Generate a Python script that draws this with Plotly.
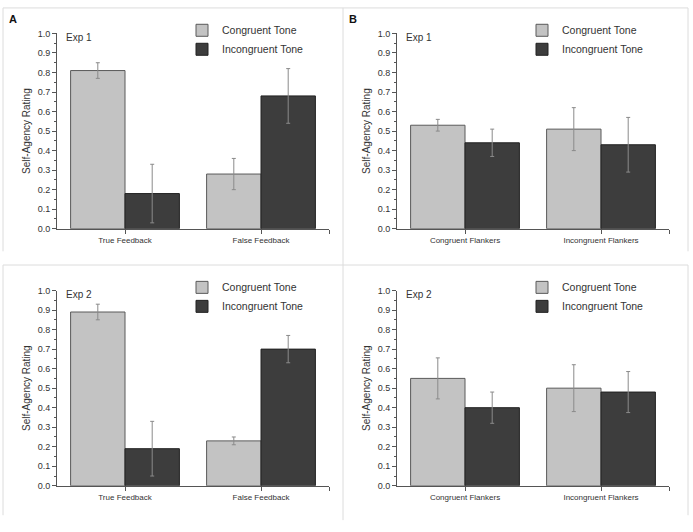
import plotly.graph_objects as go

W, H = 693, 532

# ---------------- data ----------------
feedback_cats = ["True Feedback", "False Feedback"]
flanker_cats = ["Congruent Flankers", "Incongruent Flankers"]
series_names = ["Congruent Tone", "Incongruent Tone"]

exp1_feedback_congruent = [0.81, 0.28]
exp1_feedback_congruent_err = [0.04, 0.08]
exp1_feedback_incongruent = [0.18, 0.68]
exp1_feedback_incongruent_err = [0.15, 0.14]

exp1_flanker_congruent = [0.53, 0.51]
exp1_flanker_congruent_err = [0.03, 0.11]
exp1_flanker_incongruent = [0.44, 0.43]
exp1_flanker_incongruent_err = [0.07, 0.14]

exp2_feedback_congruent = [0.89, 0.23]
exp2_feedback_congruent_err = [0.04, 0.02]
exp2_feedback_incongruent = [0.19, 0.70]
exp2_feedback_incongruent_err = [0.14, 0.07]

exp2_flanker_congruent = [0.55, 0.50]
exp2_flanker_congruent_err = [0.105, 0.12]
exp2_flanker_incongruent = [0.40, 0.48]
exp2_flanker_incongruent_err = [0.08, 0.105]

panel_titles = ["Exp 1", "Exp 1", "Exp 2", "Exp 2"]
panel_letters = ["A", "B"]
y_ticks = [0.0, 0.1, 0.2, 0.3, 0.4, 0.5, 0.6, 0.7, 0.8, 0.9, 1.0]

panels = [
    (feedback_cats, exp1_feedback_congruent, exp1_feedback_congruent_err,
     exp1_feedback_incongruent, exp1_feedback_incongruent_err),
    (flanker_cats, exp1_flanker_congruent, exp1_flanker_congruent_err,
     exp1_flanker_incongruent, exp1_flanker_incongruent_err),
    (feedback_cats, exp2_feedback_congruent, exp2_feedback_congruent_err,
     exp2_feedback_incongruent, exp2_feedback_incongruent_err),
    (flanker_cats, exp2_flanker_congruent, exp2_flanker_congruent_err,
     exp2_flanker_incongruent, exp2_flanker_incongruent_err),
]

# ---------------- style ----------------
FONT = "Liberation Sans, Arial, sans-serif"
LIGHT = "#c3c3c3"
DARK = "#3d3d3d"
AXIS = "#555555"
TXT = "#333333"

# plot areas in pixels (left, right, top, bottom)
areas = [
    (57, 329, 29, 228),
    (397, 669, 29, 228),
    (57, 329, 291, 490),
    (397, 669, 291, 490),
]

fig = go.Figure()

for i, (cats, c_vals, c_err, ic_vals, ic_err) in enumerate(panels):
    n = i + 1
    xa = "x" if n == 1 else f"x{n}"
    ya = "y" if n == 1 else f"y{n}"
    lg = "legend" if n == 1 else f"legend{n}"
    xpos = list(range(len(cats)))
    for name, vals, errs, col, lc in [
        (series_names[0], c_vals, c_err, LIGHT, "#5a5a5a"),
        (series_names[1], ic_vals, ic_err, DARK, "#222222"),
    ]:
        fig.add_trace(go.Bar(
            x=xpos, y=vals, name=name, xaxis=xa, yaxis=ya, legend=lg,
            offsetgroup=name,
            marker=dict(color=col, line=dict(color=lc, width=1)),
            error_y=dict(type="data", array=errs, visible=True,
                         color="#8a8a8a", thickness=1, width=2),
            showlegend=True,
        ))

layout = dict(
    width=W, height=H,
    margin=dict(l=0, r=0, t=0, b=0),
    paper_bgcolor="white", plot_bgcolor="white",
    barmode="group", bargap=0.2, bargroupgap=0,
    font=dict(family=FONT, color=TXT, size=10),
    showlegend=True,
)

for i, (l, r, t, b) in enumerate(areas):
    n = i + 1
    suffix = "" if n == 1 else str(n)
    cats = panels[i][0]
    layout[f"xaxis{suffix}"] = dict(
        domain=[l / W, r / W], anchor=f"y{suffix}",
        range=[-0.5, 1.5],
        tickvals=[0, 1, 1.5], ticktext=cats + [""],
        ticks="outside", ticklen=4, tickcolor=AXIS,
        showline=True, linecolor=AXIS, linewidth=1,
        showgrid=False, zeroline=False,
        tickfont=dict(size=8, color=TXT, family=FONT),
        fixedrange=True,
    )
    layout[f"yaxis{suffix}"] = dict(
        domain=[1 - b / H, 1 - t / H], anchor=f"x{suffix}",
        range=[0, 1], tickvals=y_ticks, ticktext=[f"{v:.1f}" for v in y_ticks],
        ticks="outside", ticklen=4, tickcolor=AXIS,
        minor=dict(ticks="outside", ticklen=2, dtick=0.05, tickcolor=AXIS, showgrid=False),
        showline=True, linecolor=AXIS, linewidth=1,
        showgrid=False, zeroline=False,
        tickfont=dict(size=9, color=TXT, family=FONT),
        title=dict(text="Self-Agency Rating", font=dict(size=10, color=TXT, family=FONT),
                   standoff=5),
        fixedrange=True,
    )
    lgname = "legend" if n == 1 else f"legend{n}"
    layout[lgname] = dict(
        x=(l + 125) / W, y=1 - (t - 18) / H, xanchor="left", yanchor="top",
        bgcolor="rgba(0,0,0,0)", borderwidth=0,
        font=dict(size=10.5, color=TXT, family=FONT),
        tracegroupgap=0, traceorder="normal",
    )

fig.update_layout(**layout)

# panel annotations
for i, (l, r, t, b) in enumerate(areas):
    n = i + 1
    suffix = "" if n == 1 else str(n)
    fig.add_annotation(
        text=panel_titles[i], xref=f"x{suffix} domain", yref=f"y{suffix} domain",
        x=0.025, y=0.98, xanchor="left", yanchor="middle", showarrow=False,
        font=dict(size=10, color=TXT, family=FONT),
    )

for j, letter in enumerate(panel_letters):
    fig.add_annotation(
        text=f"<b>{letter}</b>", xref="paper", yref="paper",
        x=(7 + 340 * j) / W, y=1 - 14 / H, xanchor="left", yanchor="middle",
        showarrow=False, font=dict(size=11, color="#111111", family=FONT),
    )

# light panel frame lines
BORDER = "#dcdcdc"
frame_lines = [
    (3, 3, 688, 3), (3, 3, 3, 251), (688, 3, 688, 251),
    (343, 3, 343, 525),
    (3, 265, 688, 265), (3, 265, 3, 520), (688, 265, 688, 520),
]
for (x0, y0, x1, y1) in frame_lines:
    fig.add_shape(type="line", xref="paper", yref="paper",
                  x0=x0 / W, y0=1 - y0 / H, x1=x1 / W, y1=1 - y1 / H,
                  line=dict(color=BORDER, width=1), layer="below")

fig.write_html("out.html", config={"displayModeBar": False},
               post_script="document.body.style.margin='0';")
